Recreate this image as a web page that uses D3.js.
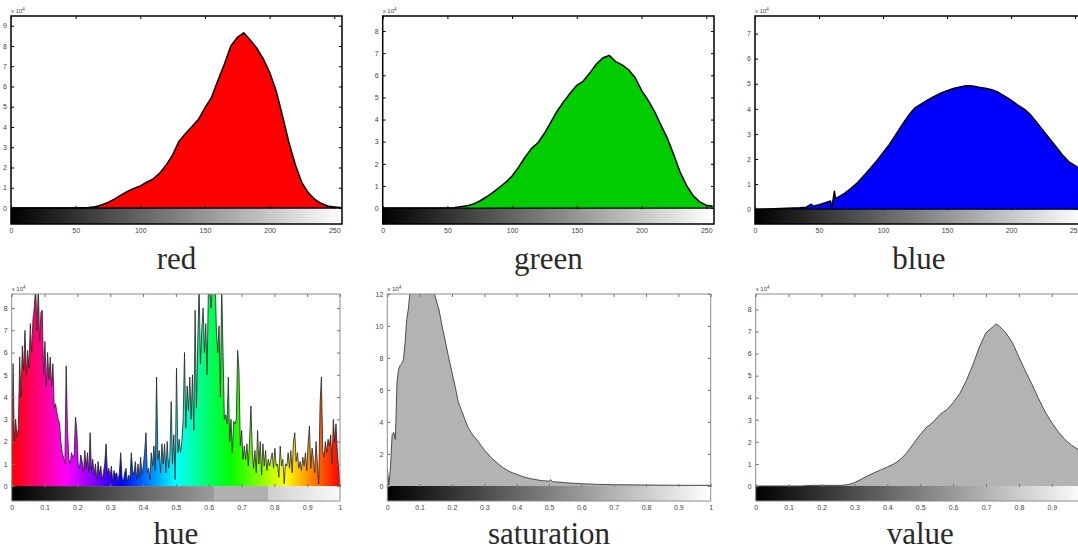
<!DOCTYPE html>
<html>
<head>
<meta charset="utf-8">
<script src="https://cdn.jsdelivr.net/npm/d3@7"></script>
<style>
  body { margin: 0; background: #fff; }
  svg { display: block; }
</style>
</head>
<body>
<script>
// histogram counts, in units of 10^4 pixels

var rgbLevels = [0,5,10,15,20,25,30,35,40,45,50,55,60,65,70,75,80,85,90,95,100,105,110,115,120,125,
  130,135,140,145,150,155,160,165,170,175,180,185,190,195,200,205,210,215,220,225,230,235,240,245,250,255];

var redCounts = [0,0,0,0,0,0,0,0,0,0,0,0.01,0.02,0.06,0.15,0.28,0.44,0.64,0.82,0.96,1.09,1.27,1.44,1.72,2.12,2.62,
  3.3,3.68,4.02,4.38,4.95,5.45,6.3,7.1,8.0,8.42,8.65,8.3,7.9,7.38,6.7,5.8,4.55,3.22,2.12,1.25,0.75,0.42,0.22,0.1,0.05,0.02];

var greenCounts = [0,0,0,0,0,0,0,0,0,0,0,0.02,0.06,0.1,0.18,0.32,0.5,0.7,0.93,1.16,1.45,1.85,2.3,2.7,2.95,3.38,
  3.9,4.4,4.82,5.2,5.55,5.74,6.1,6.5,6.78,6.9,6.62,6.47,6.25,5.9,5.32,4.88,4.37,3.75,3.15,2.4,1.6,1.0,0.55,0.28,0.13,0.08];

var blueLevels = [0,5,10,15,20,25,30,35,40,44,45,50,55,59,60,62,63,65,70,75,80,85,90,95,100,105,110,115,120,125,
  130,135,140,145,150,155,160,165,170,175,180,185,190,195,200,205,210,215,220,225,230,235,240,245,250,255];
var blueCounts = [0,0,0.01,0.02,0.03,0.04,0.05,0.06,0.08,0.2,0.12,0.18,0.26,0.33,0.02,0.72,0.42,0.48,0.63,0.83,1.05,1.33,1.62,1.92,2.25,2.58,2.97,3.37,3.74,4.04,
  4.2,4.36,4.49,4.62,4.72,4.81,4.87,4.92,4.91,4.86,4.82,4.76,4.66,4.51,4.35,4.16,4.0,3.78,3.47,3.14,2.82,2.5,2.17,1.9,1.74,1.55];

// hue histogram, 248 equal bins over [0, 1]
var hueCounts = [
  1.0,5.5,2.0,3.0,2.2,2.6,5.8,4.0,6.3,5.2,7.0,5.0,6.1,5.3,7.3,6.0,7.5,8.0,9.0,7.0,
  9.0,6.5,7.8,7.9,5.0,6.5,4.5,6.0,4.8,5.8,4.5,5.5,3.5,3.7,3.3,3.0,2.8,2.0,1.5,1.3,
  1.0,5.4,2.5,1.2,1.0,1.5,1.3,1.4,3.1,2.5,
  1.0,0.8,1.4,1.1,0.6,1.6,0.8,1.5,0.6,2.4,
  0.7,1.2,0.5,1.0,0.3,1.1,0.5,0.9,0.3,0.6,
  1.0,1.9,0.6,0.8,0.4,0.9,0.2,0.7,0.5,0.6,
  0.2,0.6,1.5,0.4,0.2,0.6,0.8,0.2,0.5,0.3,
  1.5,0.7,0.5,1.1,0.3,1.0,0.4,1.3,0.5,0.9,
  1.5,2.4,0.6,0.8,0.3,1.5,0.9,1.8,0.7,4.9,
  1.2,1.6,0.6,1.9,1.0,1.9,0.6,2.0,0.8,1.3,
  3.8,1.0,2.3,0.3,5.3,1.5,2.1,1.5,2.0,3.0,
  6.0,2.6,4.5,3.4,4.9,3.0,5.0,2.5,7.9,3.5,
  6.5,9.0,5.5,7.0,8.0,6.0,7.3,5.0,9.0,9.0,
  8.0,9.0,10,9.5,7.0,6.0,7.2,4.0,9.0,6.0,
  3.0,3.2,2.8,4.9,2.0,3.0,1.5,2.9,2.8,3.0,
  6.1,5.2,1.8,2.5,1.2,1.8,1.2,1.9,0.9,2.1,
  3.6,1.6,0.8,1.6,0.6,2.5,1.0,2.0,0.5,1.9,
  0.9,1.6,0.7,1.2,0.9,1.2,1.5,0.8,1.7,0.9,
  1.0,0.4,1.8,0.9,1.2,0.1,1.0,0.9,1.5,0.8,
  1.6,0.6,2.0,2.4,1.1,1.5,0.8,1.1,0.7,1.3,
  0.9,1.5,0.7,1.9,2.7,0.8,1.7,1.2,0.6,2.0,
  1.0,0.1,3.7,4.9,1.6,1.3,2.0,1.5,2.1,1.8,
  2.3,1.0,3.0,2.0,2.8,1.5,0.8,0
];

var satLevels = [0,0.005,0.01,0.015,0.02,0.025,0.03,0.035,0.04,0.045,0.05,0.055,0.06,0.065,0.07,0.08,0.09,0.1,0.11,0.12,
  0.13,0.14,0.15,0.16,0.17,0.18,0.19,0.2,0.21,0.22,0.23,0.24,0.25,0.26,0.28,0.3,0.32,0.34,0.36,0.38,
  0.4,0.42,0.44,0.46,0.48,0.5,0.505,0.51,0.52,0.55,0.6,0.65,0.7,0.8,0.9,1.0];
var satCounts = [1.1,0.05,1.2,3.2,3.35,2.9,6.5,7.3,7.55,7.65,7.9,8.95,10.4,11.05,12.1,12.9,13.5,13.9,14.0,13.8,
  13.3,12.5,11.7,11.0,9.95,9.0,8.0,7.1,6.2,5.2,4.7,4.15,3.65,3.3,2.8,2.25,1.8,1.43,1.11,0.88,
  0.72,0.58,0.47,0.39,0.33,0.3,0.4,0.28,0.26,0.2,0.14,0.1,0.08,0.06,0.04,0.04];

var valueLevels = [0,0.02,0.04,0.06,0.08,0.1,0.12,0.14,0.16,0.18,0.2,0.22,0.24,0.26,0.28,0.3,0.32,0.34,0.36,0.38,
  0.4,0.42,0.44,0.46,0.48,0.5,0.52,0.54,0.56,0.58,0.6,0.62,0.64,0.66,0.68,0.7,0.72,0.73,0.74,0.76,
  0.78,0.8,0.82,0.84,0.86,0.88,0.9,0.92,0.94,0.96,0.98,1.0];
var valueCounts = [0,0,0,0,0,0,0,0,0.02,0.03,0.03,0.03,0.03,0.03,0.06,0.15,0.3,0.46,0.6,0.73,
  0.86,1.0,1.2,1.52,1.93,2.33,2.67,2.9,3.24,3.44,3.77,4.18,4.77,5.48,6.3,6.95,7.2,7.34,7.25,6.95,
  6.5,5.85,5.2,4.6,3.95,3.35,2.87,2.45,2.1,1.85,1.65,1.5];

var levelTicks = [0,50,100,150,200,250];
var fracTicks = [0,0.1,0.2,0.3,0.4,0.5,0.6,0.7,0.8,0.9,1];
var redYTicks = [0,1,2,3,4,5,6,7,8,9];
var greenYTicks = [0,1,2,3,4,5,6,7,8];
var blueYTicks = [0,1,2,3,4,5,6,7];
var hueYTicks = [0,1,2,3,4,5,6,7,8];
var satYTicks = [0,2,4,6,8,10,12];
var valueYTicks = [0,1,2,3,4,5,6,7,8];

var titles = ["red","green","blue","hue","saturation","value"];

var width = 1078, height = 550;

var svg = d3.select("body").append("svg")
    .attr("width", width)
    .attr("height", height);
var defs = svg.append("defs");

var grayStops = [[0,"#000"],[1,"#fff"]];
// the hue colour bar has a flat block in it
var hueBarStops = [[0,"#000"],[0.615,"#9c9c9c"],[0.615,"#b0b0b0"],[0.78,"#b0b0b0"],[0.78,"#cfcfcf"],[1,"#fafafa"]];
var hueFillStops = [0,1/6,2/6,3/6,4/6,5/6,1];

var panels = [
  {x: rgbLevels, y: redCounts, fill: "#ff0000", left: 11, right: 342, top: 16, bottom: 224,
   xMax: 256, yMin: -0.79, yMax: 9.48, xTicks: levelTicks, yTicks: redYTicks, bar: grayStops, dark: true},
  {x: rgbLevels, y: greenCounts, fill: "#00cc00", left: 382.7, right: 714, top: 16, bottom: 224,
   xMax: 256, yMin: -0.72, yMax: 8.68, xTicks: levelTicks, yTicks: greenYTicks, bar: grayStops, dark: true},
  {x: blueLevels, y: blueCounts, fill: "#0000ff", left: 755, right: 1082.7, top: 16, bottom: 224,
   xMax: 256, yMin: -0.59, yMax: 7.7, xTicks: levelTicks, yTicks: blueYTicks, bar: grayStops, dark: true},
  {x: null, y: hueCounts, fill: "hue", left: 11.7, right: 340, top: 294, bottom: 501,
   xMax: 1, yMin: -0.67, yMax: 8.63, xTicks: fracTicks, yTicks: hueYTicks, bar: hueBarStops, dark: false},
  {x: satLevels, y: satCounts, fill: "#b3b3b3", left: 387.3, right: 710.7, top: 294, bottom: 501,
   xMax: 1, yMin: -0.94, yMax: 12, xTicks: fracTicks, yTicks: satYTicks, bar: grayStops, dark: false},
  {x: valueLevels, y: valueCounts, fill: "#b3b3b3", left: 755.7, right: 1084.7, top: 294, bottom: 501,
   xMax: 1, yMin: -0.68, yMax: 8.7, xTicks: fracTicks, yTicks: valueYTicks, bar: grayStops, dark: false}
];

panels.forEach(function(p, i) {
  var x = d3.scaleLinear().domain([0, p.xMax]).range([p.left, p.right]);
  var y = d3.scaleLinear().domain([p.yMin, p.yMax]).range([p.bottom, p.top]);
  var ink = p.dark ? "#000" : "#777";
  var g = svg.append("g");

  var pts = p.y.map(function(v, j) {
    var xv = p.x ? p.x[j] : j / (p.y.length - 1);
    return [xv, v];
  });

  defs.append("clipPath").attr("id", "clip" + i)
    .append("rect")
    .attr("x", p.left).attr("y", p.top)
    .attr("width", p.right - p.left).attr("height", p.bottom - p.top);

  // colour bar under the zero line
  var bar = defs.append("linearGradient").attr("id", "bar" + i)
      .attr("x1", 0).attr("x2", 1).attr("y1", 0).attr("y2", 0);
  p.bar.forEach(function(s) {
    bar.append("stop").attr("offset", s[0]).attr("stop-color", s[1]);
  });
  g.append("rect")
    .attr("x", x(0)).attr("y", y(0))
    .attr("width", x(p.xMax) - x(0)).attr("height", y(p.yMin) - y(0))
    .attr("fill", "url(#bar" + i + ")");

  var fill = p.fill;
  if (fill == "hue") {
    var hg = defs.append("linearGradient").attr("id", "huefill")
        .attr("gradientUnits", "userSpaceOnUse")
        .attr("x1", x(0)).attr("x2", x(1)).attr("y1", 0).attr("y2", 0);
    hueFillStops.forEach(function(t) {
      hg.append("stop").attr("offset", t).attr("stop-color", d3.hsl(360 * (1 - t), 1, 0.5).toString());
    });
    fill = "url(#huefill)";
  }

  var plot = g.append("g").attr("clip-path", "url(#clip" + i + ")");
  plot.append("path")
    .datum(pts)
    .attr("d", d3.area().x(function(d) { return x(d[0]); }).y0(y(0)).y1(function(d) { return y(d[1]); }))
    .attr("fill", fill);
  plot.append("path")
    .datum(pts)
    .attr("d", d3.line().x(function(d) { return x(d[0]); }).y(function(d) { return y(d[1]); }))
    .attr("fill", "none")
    .attr("stroke", p.dark ? "#000" : (p.fill == "hue" ? "#222" : "#4d4d4d"))
    .attr("stroke-width", p.dark ? 1.5 : (p.fill == "hue" ? 0.8 : 1))
    .attr("stroke-linejoin", "round");

  if (p.dark) {
    g.append("line")
      .attr("x1", p.left).attr("x2", p.right)
      .attr("y1", y(0)).attr("y2", y(0))
      .attr("stroke", "#000").attr("stroke-width", 1.3);
  }

  // box
  g.append("rect")
    .attr("x", p.left).attr("y", p.top)
    .attr("width", p.right - p.left).attr("height", p.bottom - p.top)
    .attr("fill", "none").attr("stroke", p.dark ? "#000" : "#8c8c8c")
    .attr("stroke-width", p.dark ? 1.5 : 1);

  function style(a) {
    a.select(".domain").remove();
    a.selectAll("line").attr("stroke", ink);
    a.selectAll("text").attr("fill", "#444").style("font-family", "Liberation Sans, Arial, sans-serif").style("font-size", "7px");
  }

  g.append("g").attr("transform", "translate(" + p.left + ",0)")
    .call(d3.axisLeft(y).tickValues(p.yTicks).tickSize(-3).tickPadding(4).tickFormat(String))
    .call(style);
  g.append("g").attr("transform", "translate(" + p.right + ",0)")
    .call(d3.axisRight(y).tickValues(p.yTicks).tickSize(-3).tickFormat(""))
    .call(style);
  g.append("g").attr("transform", "translate(0," + p.top + ")")
    .call(d3.axisTop(x).tickValues(p.xTicks).tickSize(-3).tickFormat(""))
    .call(style);
  g.append("g").attr("transform", "translate(0," + y(0) + ")")
    .call(d3.axisBottom(x).tickValues(p.xTicks).tickSize(3).tickFormat(""))
    .call(function(a) { style(a); a.selectAll("line").attr("y1", -2).attr("y2", 1); });
  g.append("g").attr("transform", "translate(0," + p.bottom + ")")
    .call(d3.axisBottom(x).tickValues(p.xTicks).tickSize(0).tickPadding(4).tickFormat(String))
    .call(style);

  // x 10^4 scale note
  var note = g.append("text")
    .attr("x", p.left).attr("y", p.top - 3)
    .attr("fill", "#444")
    .style("font-family", "Liberation Sans, Arial, sans-serif")
    .style("font-size", "6px")
    .text("x 10");
  note.append("tspan").attr("dy", -2.5).style("font-size", "4.5px").text("4");

  g.append("text")
    .attr("x", (p.left + p.right) / 2)
    .attr("y", Math.min(p.bottom + 45, 543.5))
    .attr("text-anchor", "middle")
    .attr("fill", "#2a2a2a")
    .style("font-family", "Liberation Serif, Times New Roman, serif")
    .style("font-size", "31px")
    .text(titles[i]);
});
</script>
</body>
</html>
